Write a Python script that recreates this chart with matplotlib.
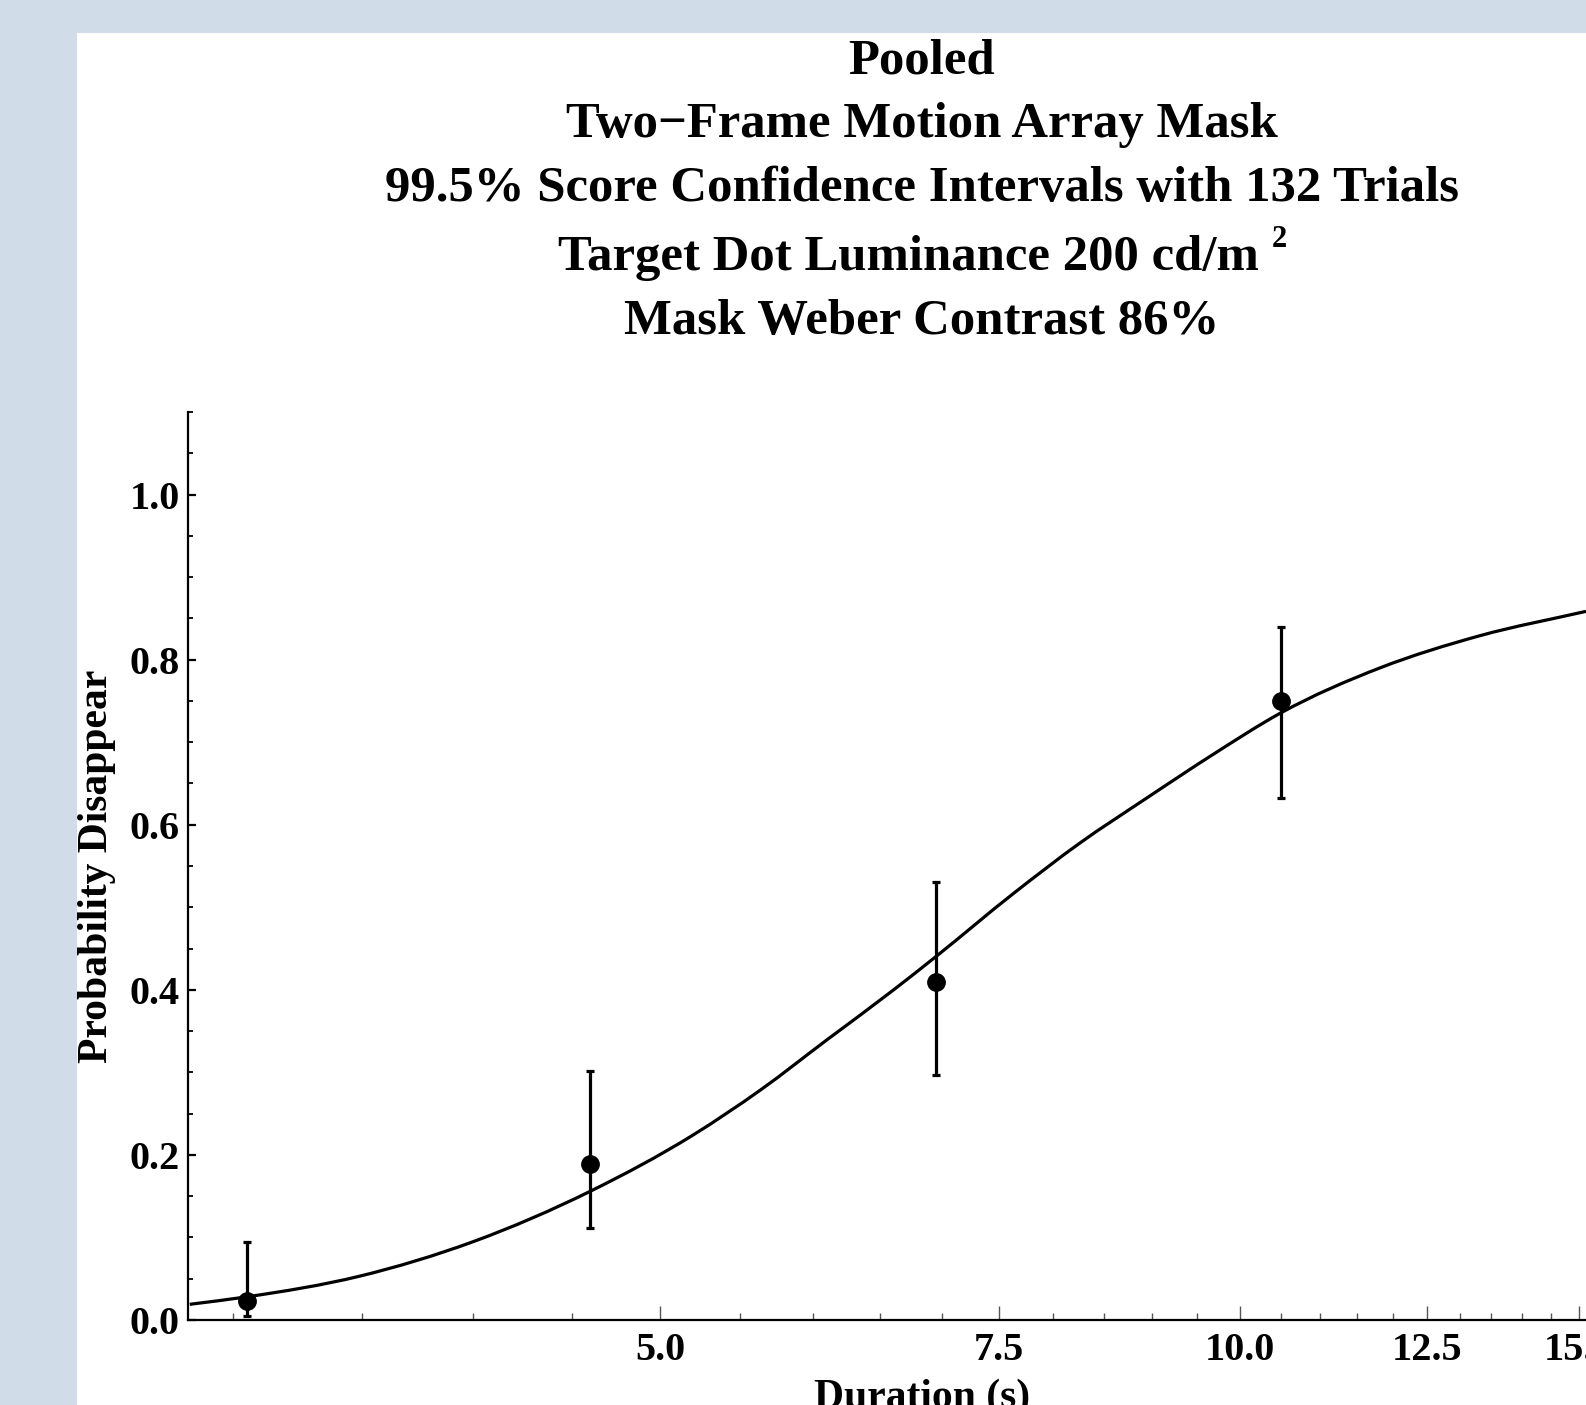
import numpy as np
import matplotlib
matplotlib.use("Agg")
import matplotlib.pyplot as plt
from matplotlib.patches import Rectangle, PathPatch
from matplotlib.path import Path
from matplotlib.ticker import FixedLocator, NullFormatter

plt.rcParams['font.family'] = ['Liberation Serif', 'DejaVu Serif']
plt.rcParams['font.weight'] = 'bold'

# data
durations = [3.05, 4.6, 6.95, 10.5]
prob_disappear = [0.0227, 0.189, 0.409, 0.75]
ci_low = [0.005, 0.112, 0.297, 0.632]
ci_high = [0.094, 0.302, 0.531, 0.840]

# fitted curve
curve_x = [2.85, 3.05, 3.49, 4.0, 4.6, 5.2, 5.64, 6.1, 6.61, 6.95,
           7.63, 8.26, 8.94, 9.68, 10.49, 11.82, 13.32, 15.12]
curve_y = [0.019, 0.028, 0.053, 0.095, 0.156, 0.224, 0.279, 0.339, 0.400, 0.440,
           0.517, 0.578, 0.632, 0.685, 0.735, 0.790, 0.829, 0.8585]

x_major = [5.0, 7.5, 10.0, 12.5, 15.0]
x_major_labels = ["5.0", "7.5", "10.0", "12.5", "15.0"]
x_minor = [3.0, 3.5, 4.0, 4.5, 5.5, 6.0, 6.5, 7.0, 8.0, 8.5, 9.0, 9.5,
           10.5, 11.0, 11.5, 12.0, 13.0, 13.5, 14.0, 14.5]
y_major = [0.0, 0.2, 0.4, 0.6, 0.8, 1.0]
y_major_labels = ["0.0", "0.2", "0.4", "0.6", "0.8", "1.0"]
y_minor = [0.05, 0.1, 0.15, 0.25, 0.3, 0.35, 0.45, 0.5, 0.55, 0.65, 0.7, 0.75,
           0.85, 0.9, 0.95, 1.05, 1.1]

title_lines = ["Pooled",
               "Two\u2212Frame Motion Array Mask",
               "99.5% Score Confidence Intervals with 132 Trials"]
lum_line = "Target Dot Luminance 200 cd/m"
contrast_line = "Mask Weber Contrast 86%"


def smooth_path(xs, ys):
    # bezier (hermite) segments through the sampled points, in log-x space
    lx = np.log10(xs)
    y = np.asarray(ys, float)
    h = np.diff(lx)
    d = np.diff(y) / h
    m = np.empty_like(y)
    m[0], m[-1] = d[0], d[-1]
    m[1:-1] = (h[1:] * d[:-1] + h[:-1] * d[1:]) / (h[:-1] + h[1:])
    verts = [(lx[0], y[0])]
    codes = [Path.MOVETO]
    for i in range(len(h)):
        verts += [(lx[i] + h[i] / 3, y[i] + m[i] * h[i] / 3),
                  (lx[i + 1] - h[i] / 3, y[i + 1] - m[i + 1] * h[i] / 3),
                  (lx[i + 1], y[i + 1])]
        codes += [Path.CURVE4] * 3
    verts = np.array(verts)
    verts[:, 0] = 10 ** verts[:, 0]
    return Path(verts, codes)


W, H = 1586, 1405
fig = plt.figure(figsize=(W / 100, H / 100), dpi=100)
fig.patch.set_facecolor('#d0dce8')
# white panel behind everything
fig.patches.append(Rectangle((77 / W, 0), 1 - 77 / W, (H - 33) / H,
                             transform=fig.transFigure, facecolor='white',
                             edgecolor='none', zorder=-10))

ax = fig.add_axes([188 / W, (H - 1320) / H, (W - 188) / W, (1320 - 412) / H])
ax.set_zorder(5)
ax.set_facecolor('none')
ax.set_xscale('log')
ax.set_xlim(2.844, 15.12)
ax.set_ylim(0, 1.1)

ax.add_patch(PathPatch(smooth_path(curve_x, curve_y), facecolor='none',
                       edgecolor='black', lw=2.3, zorder=3, clip_on=False))
yerr = [np.array(prob_disappear) - np.array(ci_low),
        np.array(ci_high) - np.array(prob_disappear)]
ax.errorbar(durations, prob_disappear, yerr=yerr, fmt='o', color='black',
            ms=12.5, elinewidth=2.3, capsize=3, capthick=2.3, zorder=4)

for s in ['top', 'right']:
    ax.spines[s].set_visible(False)
for s in ['left', 'bottom']:
    ax.spines[s].set_linewidth(1.6)

ax.xaxis.set_major_locator(FixedLocator(x_major))
ax.xaxis.set_minor_locator(FixedLocator(x_minor))
ax.set_xticklabels(x_major_labels)
ax.xaxis.set_minor_formatter(NullFormatter())
ax.yaxis.set_major_locator(FixedLocator(y_major))
ax.yaxis.set_minor_locator(FixedLocator(y_minor))
ax.set_yticklabels(y_major_labels)

ax.tick_params(axis='x', which='major', direction='in', length=10, width=1.0,
               color='#555555', labelsize=29, pad=9)
ax.tick_params(axis='x', which='minor', direction='in', length=5, width=1.0,
               color='#555555')
ax.tick_params(axis='y', which='major', direction='in', length=5.5, width=1.6,
               color='black', labelsize=29, pad=6)
ax.tick_params(axis='y', which='minor', direction='in', length=3.5, width=1.3,
               color='black')

cx = 922 / W
baselines = [73, 137, 201]
for line, b in zip(title_lines, baselines):
    fig.text(cx, (H - b) / H, line, ha='center', va='baseline',
             fontsize=36.5, fontweight='bold')

t4 = fig.text(0, (H - 270) / H, lum_line, ha='left', va='baseline',
              fontsize=36.5, fontweight='bold')
s4 = fig.text(0, (H - 247) / H, "2", ha='left', va='baseline',
              fontsize=22, fontweight='bold')
fig.canvas.draw()
r = fig.canvas.get_renderer()
w_main = t4.get_window_extent(r).width
w_sup = s4.get_window_extent(r).width
gap = 13
x0 = 922 - (w_main + gap + w_sup) / 2
t4.set_x(x0 / W)
s4.set_x((x0 + w_main + gap) / W)

fig.text(cx, (H - 334) / H, contrast_line, ha='center', va='baseline',
         fontsize=36.5, fontweight='bold')

fig.text(97 / W, (H - 866) / H, "Probability Disappear", rotation=90,
         ha='center', va='center', fontsize=30, fontweight='bold')
fig.text(cx, (H - 1408) / H, "Duration (s)", ha='center', va='baseline',
         fontsize=30, fontweight='bold')

fig.savefig("out.png", dpi=100, facecolor=fig.get_facecolor())
